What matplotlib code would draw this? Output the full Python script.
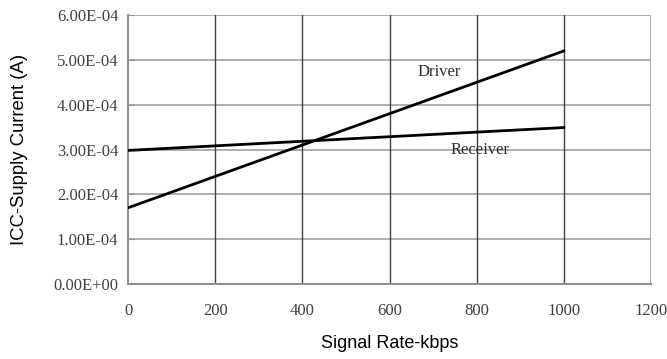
import matplotlib
matplotlib.use("Agg")
import matplotlib.pyplot as plt
from matplotlib.ticker import FuncFormatter

rate_kbps = [0, 1000]
driver_a = [1.70e-4, 5.20e-4]
receiver_a = [2.98e-4, 3.49e-4]
x_ticks = [0, 200, 400, 600, 800, 1000, 1200]
y_ticks = [0, 1e-4, 2e-4, 3e-4, 4e-4, 5e-4, 6e-4]

fig = plt.figure(figsize=(6.67, 3.59), dpi=100)
ax = fig.add_axes([0.192, 0.209, 0.784, 0.749])

tick_font = "Liberation Serif"

ax.set_xlim(0, 1200)
ax.set_ylim(0, 6e-4)
ax.set_xticks(x_ticks)
ax.set_yticks(y_ticks)
ax.yaxis.set_major_formatter(FuncFormatter(lambda v, p: f"{v:.2E}" if v != 0 else "0.00E+00"))

for y in y_ticks[1:]:
    ax.axhline(y, color="#a0a0a0", lw=1.2, zorder=1)
for x in x_ticks[1:-1]:
    ax.axvline(x, color="#404040", lw=1.0, zorder=1)
ax.axvline(1200, color="#a0a0a0", lw=1.2, zorder=1)

for s in ["top", "right"]:
    ax.spines[s].set_visible(False)
for s in ["left", "bottom"]:
    ax.spines[s].set_color("#909090")
    ax.spines[s].set_linewidth(1.5)

ax.tick_params(axis="both", color="#909090", labelsize=12, labelcolor="#404040")
ax.tick_params(axis="y", direction="in", length=4, pad=7)
ax.tick_params(axis="x", length=0, pad=14)
for lab in ax.get_xticklabels() + ax.get_yticklabels():
    lab.set_fontfamily(tick_font)

ax.plot(rate_kbps, driver_a, color="black", lw=2, zorder=3)
ax.plot(rate_kbps, receiver_a, color="black", lw=2, zorder=3)

ax.text(715, 4.72e-4, "Driver", fontfamily=tick_font, fontsize=12, color="#303030", ha="center", va="center")
ax.text(808, 2.98e-4, "Receiver", fontfamily=tick_font, fontsize=12, color="#303030", ha="center", va="center")

ax.set_xlabel("Signal Rate-kbps", fontfamily="Liberation Sans", fontsize=13, labelpad=11)
ax.set_ylabel("ICC-Supply Current (A)", fontfamily="Liberation Sans", fontsize=13.3, labelpad=18)

fig.savefig("out.png", dpi=100)
